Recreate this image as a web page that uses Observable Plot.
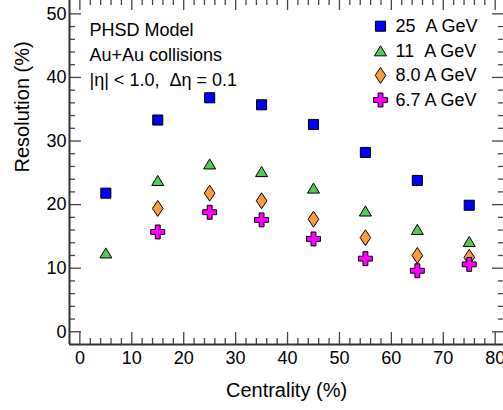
<!DOCTYPE html>
<html><head><meta charset="utf-8">
<script src="https://cdn.jsdelivr.net/npm/d3@7"></script>
<script src="https://cdn.jsdelivr.net/npm/@observablehq/plot@0.6"></script>
<style>body{margin:0;background:#fff} #chart svg{display:block}</style>
</head><body><div id="chart"></div>
<script>
// ---- data ----
const centrality = [5, 15, 25, 35, 45, 55, 65, 75];
const res25 = [21.8, 33.3, 36.8, 35.7, 32.6, 28.2, 23.8, 19.9];
const res11 = [12.4, 23.8, 26.4, 25.2, 22.6, 19.0, 16.1, 14.2];
const res80 = [null, 19.4, 21.8, 20.6, 17.7, 14.8, 12.0, 11.7];
const res67 = [null, 15.7, 18.8, 17.6, 14.6, 11.5, 9.6, 10.6];
const seriesNames = ["25\u00a0\u00a0A GeV", "11\u00a0\u00a0A GeV", "8.0 A GeV", "6.7 A GeV"];
const annotationLines = ["PHSD Model", "Au+Au collisions", "|η| < 1.0,\u00a0\u00a0Δη = 0.1"];
const xMajorTicks = [0, 10, 20, 30, 40, 50, 60, 70, 80];
const yMajorTicks = [0, 10, 20, 30, 40, 50];
const xMinorTicks = d3.range(2, 80, 2).filter(d => d % 10 !== 0);
const yMinorTicks = d3.range(2, 52, 2).filter(d => d % 10 !== 0);
const xTitle = "Centrality (%)";
const yTitle = "Resolution (%)";

// ---- symbols (bbox-centred) ----
const squareSym = {draw(c, size){ const r = Math.sqrt(size/Math.PI), h = r*0.9; c.moveTo(-h,-h); c.lineTo(h,-h); c.lineTo(h,h); c.lineTo(-h,h); c.closePath(); }};
const triSym = {draw(c, size){ const r = Math.sqrt(size/Math.PI), w = r*1.07, h = r*0.9; c.moveTo(0,-h); c.lineTo(w,h); c.lineTo(-w,h); c.closePath(); }};
const diamondSym = {draw(c, size){ const r = Math.sqrt(size/Math.PI), w = r*0.95, h = r*1.42; c.moveTo(0,-h); c.lineTo(w,0); c.lineTo(0,h); c.lineTo(-w,0); c.closePath(); }};
const crossSym = {draw(c, size){ const r = Math.sqrt(size/Math.PI), a = r*1.2, b = r*0.42; c.moveTo(-b,-a); c.lineTo(b,-a); c.lineTo(b,-b); c.lineTo(a,-b); c.lineTo(a,b); c.lineTo(b,b); c.lineTo(b,a); c.lineTo(-b,a); c.lineTo(-b,b); c.lineTo(-a,b); c.lineTo(-a,-b); c.lineTo(-b,-b); c.closePath(); }};

const seriesValues = [res25, res11, res80, res67];
const seriesStyle = [
  {symbol: squareSym, fill: "#0000ff", r: 5.6},
  {symbol: triSym, fill: "#55c855", r: 5.6},
  {symbol: diamondSym, fill: "#fd9a42", r: 5.6},
  {symbol: crossSym, fill: "#ff00ff", r: 5.8}
];
const tables = seriesValues.map((vals, i) =>
  centrality.map((c, j) => ({c, v: vals[j], s: seriesNames[i]})).filter(d => d.v != null));

// ---- layout ----
const W = 503, H = 410, mL = 69, mR = 0, mT = 0, mB = 66;
const plotW = W - mL - mR, plotH = H - mT - mB;
const xDomain = [-2, 81.6], yDomain = [-2, 52.1];
const tk = {stroke: "#444", strokeWidth: 1.3};
const legTop = 25.7, legStep = 24.6;

const marks = [
  Plot.tickX(xMajorTicks, {x: d => d, insetTop: plotH - 12, ...tk}),
  Plot.tickX(xMinorTicks, {x: d => d, insetTop: plotH - 6, ...tk}),
  Plot.tickX(xMajorTicks, {x: d => d, insetBottom: plotH - 10, ...tk}),
  Plot.tickX(xMinorTicks, {x: d => d, insetBottom: plotH - 5, ...tk}),
  Plot.tickY(yMajorTicks, {y: d => d, insetRight: plotW - 12, ...tk}),
  Plot.tickY(yMinorTicks, {y: d => d, insetRight: plotW - 6, ...tk}),
  Plot.tickY(yMajorTicks, {y: d => d, insetLeft: plotW - 11, ...tk}),
  Plot.tickY(yMinorTicks, {y: d => d, insetLeft: plotW - 5, ...tk}),
  Plot.ruleX([xDomain[0]], {stroke: "#333", strokeWidth: 2}),
  Plot.ruleY([yDomain[0]], {stroke: "#333", strokeWidth: 2}),
  Plot.axisX({ticks: xMajorTicks, tickSize: 0, tickPadding: 7, fontSize: 18, label: null}),
  Plot.axisY({ticks: yMajorTicks, tickSize: 0, tickPadding: 3, fontSize: 18, label: null}),
  Plot.text([xTitle], {text: d => d, frameAnchor: "bottom", dy: 45.6, fontSize: 20, lineAnchor: "middle"}),
  Plot.text([yTitle], {text: d => d, frameAnchor: "left", rotate: -90, dx: -47, fontSize: 20, lineAnchor: "middle"}),
  Plot.text([annotationLines.join("\n")], {text: d => d, frameAnchor: "top-left", dx: 20, dy: 18, lineAnchor: "top", textAnchor: "start", lineHeight: 25/18, fontSize: 18}),
  ...tables.map((t, i) => Plot.dot(t, {x: "c", y: "v", ...seriesStyle[i], stroke: "#000", strokeWidth: 1})),
  ...seriesNames.map((name, i) => Plot.dot([name], {frameAnchor: "top-left", dx: 311, dy: legTop + i*legStep, ...seriesStyle[i], stroke: "#000", strokeWidth: 1})),
  ...seriesNames.map((name, i) => Plot.text([name], {text: d => d, frameAnchor: "top-left", dx: 326, dy: legTop + i*legStep, textAnchor: "start", lineAnchor: "middle", fontSize: 18}))
];

const chart = Plot.plot({
  width: W, height: H,
  marginLeft: mL, marginRight: mR, marginTop: mT, marginBottom: mB,
  x: {domain: xDomain, axis: null},
  y: {domain: yDomain, axis: null},
  style: {fontFamily: "'Liberation Sans', Arial, sans-serif", color: "#000", background: "#fff"},
  marks
});
document.getElementById("chart").appendChild(chart);
</script></body></html>
